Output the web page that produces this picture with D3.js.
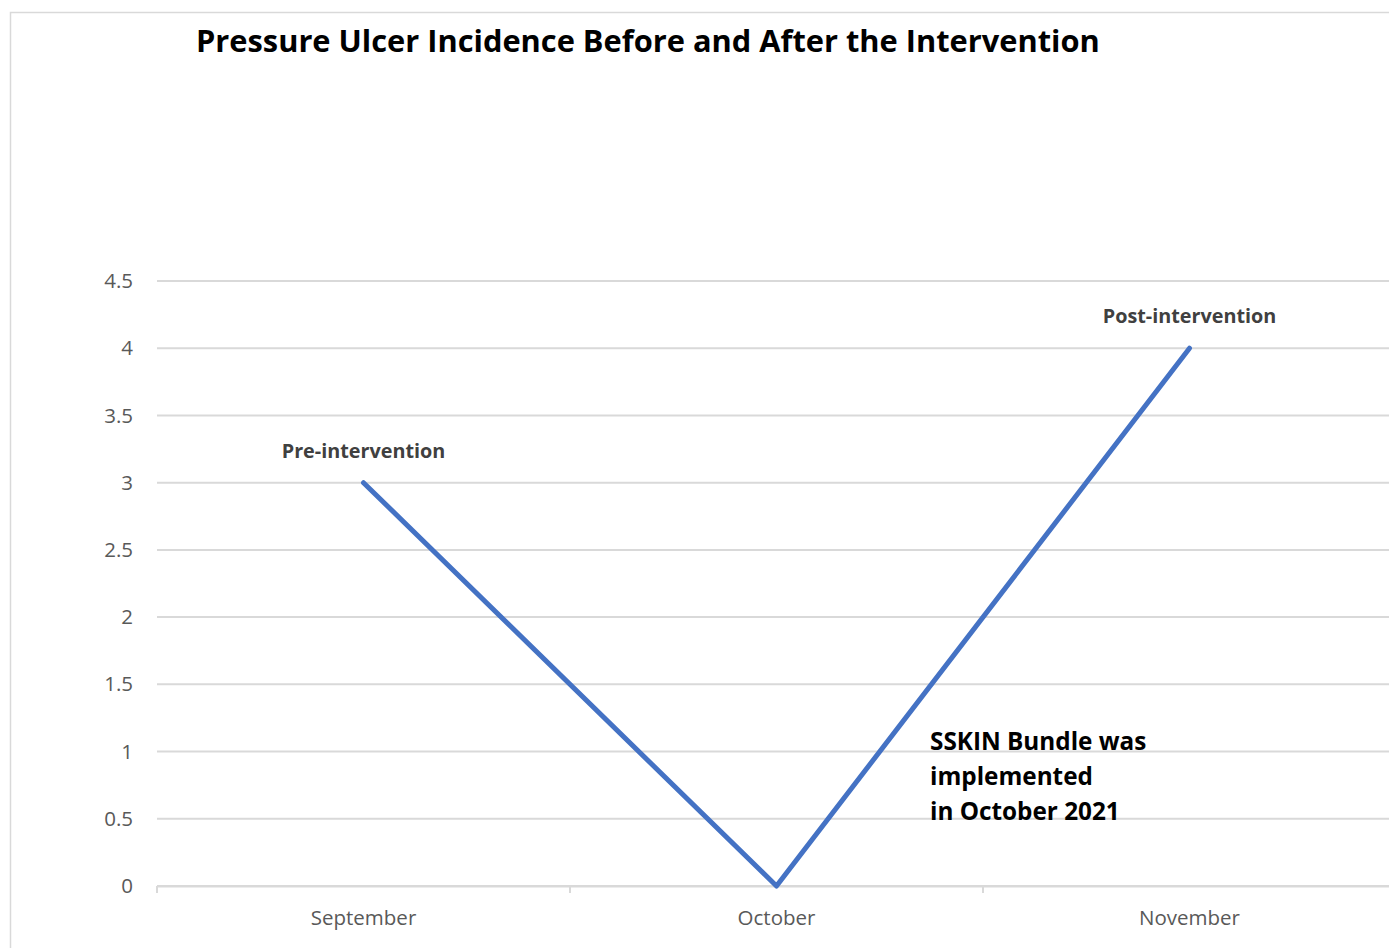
<!DOCTYPE html>
<html>
<head>
<meta charset="utf-8">
<script src="https://cdn.jsdelivr.net/npm/d3@7"></script>
<style>
  body { margin: 0; background: #fff; }
  svg { display: block; }
</style>
</head>
<body>
<div id="chart"></div>
<script>
var months = ["September", "October", "November"];
var incidence = [3, 0, 4];
var yTicks = [0, 0.5, 1, 1.5, 2, 2.5, 3, 3.5, 4, 4.5];
var pointLabels = ["Pre-intervention", "", "Post-intervention"];
var noteLines = ["SSKIN Bundle was", "implemented", "in October 2021"];

var wide = 1389;
var high = 948;
var fontFam = "'Open Sans', 'Noto Sans', sans-serif";

var svg = d3.select("#chart")
  .append("svg")
  .attr("width", wide)
  .attr("height", high);

// chart frame (runs off the right and bottom edge)
svg.append("rect")
  .attr("x", 10.5)
  .attr("y", 12.5)
  .attr("width", 1420)
  .attr("height", 980)
  .attr("fill", "#fff")
  .attr("stroke", "#d9d9d9")
  .attr("stroke-width", 1.5);

var xScale = d3.scaleBand()
  .domain(months)
  .range([157, 1396]);

var yScale = d3.scaleLinear()
  .domain([0, 4.5])
  .range([886, 281]);

// gridlines
svg.append("g")
  .selectAll("line")
  .data(yTicks)
  .enter()
  .append("line")
  .attr("x1", 157)
  .attr("x2", 1396)
  .attr("y1", function(d) { return yScale(d); })
  .attr("y2", function(d) { return yScale(d); })
  .attr("stroke", "#d9d9d9")
  .attr("stroke-width", 2);

// y axis labels
var yAxis = d3.axisLeft(yScale)
  .tickValues(yTicks)
  .tickSize(0)
  .tickPadding(24)
  .tickFormat(function(d) { return String(d); });

var yG = svg.append("g")
  .attr("transform", "translate(157,0)")
  .call(yAxis);
yG.select(".domain").remove();
yG.selectAll("text")
  .attr("font-family", fontFam)
  .attr("font-size", 20.5)
  .attr("fill", "#595959");

// x axis
var xAxis = d3.axisBottom(xScale).tickSize(0).tickPadding(24);
var xG = svg.append("g")
  .attr("transform", "translate(0," + yScale(0) + ")")
  .call(xAxis);
xG.select(".domain").attr("stroke", "#d9d9d9").attr("stroke-width", 2);
xG.selectAll("text")
  .attr("font-family", fontFam)
  .attr("font-size", 20.5)
  .attr("fill", "#595959");

// tick marks at category boundaries
svg.append("g")
  .selectAll("line")
  .data(months)
  .enter()
  .append("line")
  .attr("x1", function(d) { return xScale(d); })
  .attr("x2", function(d) { return xScale(d); })
  .attr("y1", yScale(0))
  .attr("y2", yScale(0) + 7)
  .attr("stroke", "#d9d9d9")
  .attr("stroke-width", 2);

// the line
var line = d3.line()
  .x(function(d, i) { return xScale(months[i]) + xScale.bandwidth() / 2; })
  .y(function(d) { return yScale(d); });

svg.append("path")
  .datum(incidence)
  .attr("d", line)
  .attr("fill", "none")
  .attr("stroke", "#4472c4")
  .attr("stroke-width", 5)
  .attr("stroke-linecap", "round")
  .attr("stroke-linejoin", "round");

// point labels
svg.append("g")
  .selectAll("text")
  .data(incidence)
  .enter()
  .append("text")
  .attr("x", function(d, i) { return xScale(months[i]) + xScale.bandwidth() / 2; })
  .attr("y", function(d) { return yScale(d) - 25; })
  .attr("text-anchor", "middle")
  .attr("font-family", fontFam)
  .attr("font-weight", "bold")
  .attr("font-size", 19.8)
  .attr("fill", "#404040")
  .text(function(d, i) { return pointLabels[i]; });

// annotation
svg.append("g")
  .selectAll("text")
  .data(noteLines)
  .enter()
  .append("text")
  .attr("x", 930)
  .attr("y", function(d, i) { return 750 + i * 35; })
  .attr("font-family", fontFam)
  .attr("font-weight", "bold")
  .attr("font-size", 24.3)
  .attr("fill", "#000")
  .text(function(d) { return d; });

// title
svg.append("text")
  .attr("x", 196)
  .attr("y", 52)
  .attr("font-family", fontFam)
  .attr("font-weight", "bold")
  .attr("font-size", 30.8)
  .attr("fill", "#000")
  .text("Pressure Ulcer Incidence Before and After the Intervention");
</script>
</body>
</html>
